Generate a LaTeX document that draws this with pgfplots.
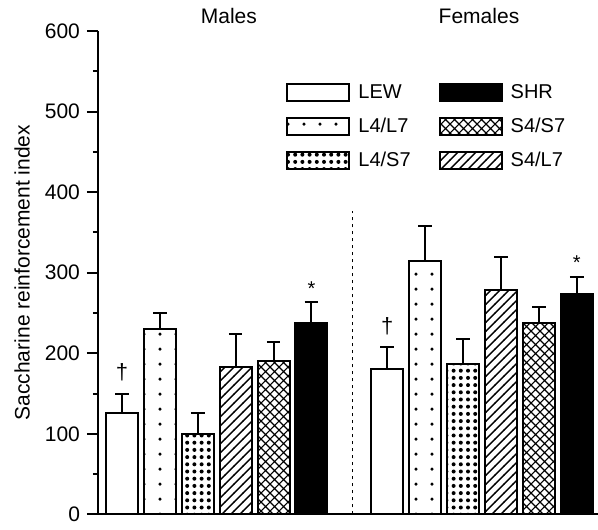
\documentclass[border=0pt]{standalone}
\usepackage{fontspec}
\setmainfont{Liberation Sans}
\usepackage{pgfplots}
\pgfplotsset{compat=1.18}
\usetikzlibrary{patterns}

\pgfdeclarepatternformonly{mysparsedots}{\pgfqpoint{-1pt}{-1pt}}{\pgfqpoint{1pt}{1pt}}{\pgfqpoint{8pt}{7.5pt}}{\pgfpathcircle{\pgfqpoint{0pt}{0pt}}{0.85pt}\pgfusepath{fill}}
\pgfdeclarepatternformonly{mydensedots}{\pgfqpoint{-1.1pt}{-1.1pt}}{\pgfqpoint{1.1pt}{1.1pt}}{\pgfqpoint{3.6pt}{3.6pt}}{\pgfpathcircle{\pgfqpoint{0pt}{0pt}}{1.0pt}\pgfusepath{fill}}
\pgfdeclarepatternformonly{myhatch}{\pgfqpoint{-0.5pt}{-0.5pt}}{\pgfqpoint{5pt}{5pt}}{\pgfqpoint{4.5pt}{4.5pt}}{\pgfsetlinewidth{0.65pt}\pgfpathmoveto{\pgfqpoint{-0.1pt}{-0.1pt}}\pgfpathlineto{\pgfqpoint{4.6pt}{4.6pt}}\pgfusepath{stroke}}
\pgfdeclarepatternformonly{mycrosshatch}{\pgfqpoint{-0.5pt}{-0.5pt}}{\pgfqpoint{5pt}{5pt}}{\pgfqpoint{4.5pt}{4.5pt}}{\pgfsetlinewidth{0.6pt}\pgfpathmoveto{\pgfqpoint{-0.1pt}{-0.1pt}}\pgfpathlineto{\pgfqpoint{4.6pt}{4.6pt}}\pgfpathmoveto{\pgfqpoint{-0.1pt}{4.6pt}}\pgfpathlineto{\pgfqpoint{4.6pt}{-0.1pt}}\pgfusepath{stroke}}

\begin{document}
\begin{tikzpicture}[font=\fontsize{10}{12}\selectfont]
\begin{axis}[
  scale only axis, width=250pt, height=241.7pt,
  xmin=-0.633, xmax=12.56, ymin=0, ymax=600,
  axis lines*=left, axis line style={line width=1pt},
  xtick=\empty, ytick={0,100,...,600}, minor y tick num=1,
  tick align=outside, major tick length=5.5pt, minor tick length=2.5pt,
  every tick/.style={black, line width=1pt},
  /pgf/number format/assume math mode=true,
  yticklabel style={font=\fontsize{10.5}{12}\selectfont},
  ylabel={Saccharine reinforcement index},
  ylabel style={at={(axis description cs:-0.152,0.5)}, anchor=center, font=\fontsize{10.5}{12}\selectfont},
  ybar, bar width=0.845,
  clip=false,
  legend columns=2,
  legend style={draw=none, fill=none, at={(axis description cs:0.364,0.907)}, anchor=north west,
    row sep=4.3pt, /tikz/every even column/.append style={column sep=12pt},
    /tikz/every odd column/.append style={column sep=2pt}},
  legend cell align=left,
  legend image code/.code={\draw[#1,line width=1pt] (0pt,-4.25pt) rectangle (31pt,4.25pt);},
  every axis plot/.append style={draw=black, line width=1pt},
  error bars/y dir=plus, error bars/y explicit,
  error bars/error bar style={line width=1pt, black},
  error bars/error mark options={rotate=90, line width=1pt, black, mark size=3.4pt},
]
\coordinate (sw) at (rel axis cs:0,0);
\coordinate (ne) at (rel axis cs:1,1);

\addplot[fill=white, bar shift=0pt] table[x=x, y=y, y error=e] {
x y e
0 125.5 23.5
7 181 27
};
\addlegendentry{LEW}

\addplot[fill=black, bar shift=0pt] table[x=x, y=y, y error=e] {
x y e
5 238 26
12 274 21
};
\addlegendentry{SHR}

\addplot[pattern=mysparsedots, bar shift=0pt] table[x=x, y=y, y error=e] {
x y e
1 230 20
8 315 43.5
};
\addlegendentry{L4/L7}

\addplot[pattern=mycrosshatch, bar shift=0pt] table[x=x, y=y, y error=e] {
x y e
4 190.4 23.3
11 238 19
};
\addlegendentry{S4/S7}

\addplot[pattern=mydensedots, bar shift=0pt] table[x=x, y=y, y error=e] {
x y e
2 100 25.5
9 187 31
};
\addlegendentry{L4/S7}

\addplot[pattern=myhatch, bar shift=0pt] table[x=x, y=y, y error=e] {
x y e
3 182.6 41
10 279 40
};
\addlegendentry{S4/L7}

\draw[line width=0.7pt, dash pattern=on 1.5pt off 2pt] (axis cs:6.09,0) -- (axis cs:6.09,376);
\node[font=\fontsize{11}{12}\selectfont] at (axis cs:0,177) {†};
\node[font=\fontsize{11}{12}\selectfont] at (axis cs:7,234) {†};
\node at (axis cs:5,280) {*};
\node at (axis cs:12,313) {*};
\node[font=\fontsize{10.5}{12}\selectfont] at (axis cs:2.82,618) {Males};
\node[font=\fontsize{10.5}{12}\selectfont] at (axis cs:9.42,618) {Females};
\end{axis}
\pgfresetboundingbox
\path[use as bounding box] ([xshift=-49pt,yshift=-7.35pt]sw) rectangle ([yshift=15.5pt]ne);
\end{tikzpicture}
\end{document}
